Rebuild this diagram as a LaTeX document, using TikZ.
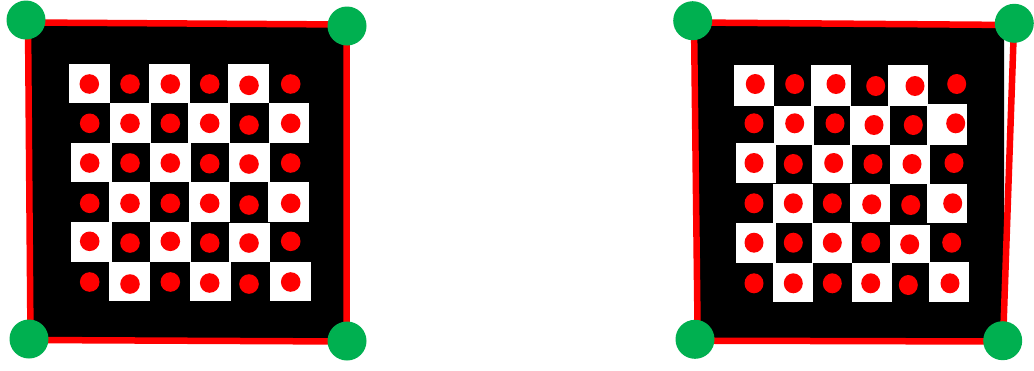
\documentclass[tikz,border=0pt]{standalone}
\definecolor{cgreen}{RGB}{0,176,80}
\definecolor{cred}{RGB}{255,0,0}
\tikzset{
  corner/.style={circle,fill=cgreen,inner sep=0pt,minimum size=39pt},
  frame/.style={draw=cred,line width=6.5pt,line join=miter},
  wcell/.style={fill=white},
  rdot/.style={fill=cred}
}
\begin{document}
\begin{tikzpicture}[x=1pt,y=-1pt]
\useasboundingbox[fill=white] (0,0) rectangle (1034,370);
% ---------- left panel ----------
\fill[black] (28,22) -- (347,24.5) -- (347,341.5) -- (30.5,340) -- cycle;
\foreach \a/\b/\c/\d in {
  69/64/110/103, 149/64/190/103, 228/64/269/103,
  110/103/151/142.7, 188/103/230/142.7, 269/103/309/142.7,
  71/142.7/112/182, 150/142.7/191/182, 229/142.7/270/182,
  109/182/150/221.7, 189/182/230/221.7, 268/182/309/221.7,
  71/221.7/112/261.7, 150/221.7/191/261.7, 229/223/270/261.7,
  109/261.7/150/300.7, 190/261.7/231/300.7, 270/261.7/311/300.7}
  \fill[wcell] (\a,\b) rectangle (\c,\d);
\foreach \x/\y in {
  89.3/84, 130/84, 170.3/84, 209.7/84, 249/85.3, 290.7/84,
  89.7/123.3, 130/123.3, 170.3/123.3, 209.7/123.3, 249/125, 290.7/123.3,
  89.7/163, 130/163, 170.3/163, 209.7/163.7, 249/164, 290.7/163,
  89.7/203.3, 130/203.3, 170.3/203.3, 209.7/203.3, 249/205, 290.7/203.3,
  89.7/241.3, 130/243, 170.3/241.3, 209.7/243, 249/243, 290.7/241.3,
  89.7/282, 130/284, 170.3/282, 209.7/283, 249/284, 290.7/282}
  \fill[rdot] (\x,\y) circle (9.8);
\draw[frame] (28,22.5) -- (346.7,24.5) -- (346.7,341.5) -- (30.5,340) -- cycle;
\node[corner] (l1) at (26,20) {};
\node[corner] (l2) at (347,26) {};
\node[corner] (l3) at (29,339) {};
\node[corner] (l4) at (347,341) {};
% ---------- right panel ----------
\fill[black] (694,22) -- (1004,24) -- (1004,341) -- (697.7,340.7) -- cycle;
\foreach \a/\b/\c/\d in {
  734/65/774/106, 811/65/851/106, 888/65/927.7/106,
  774/106/814/145, 850/106/890/145, 927/104/967/145,
  736/142.7/776/182.7, 812/145/852/182.7, 890/145/930/184,
  773.3/184/813.3/222.7, 850/183.7/890/221.7, 927.3/184/966.7/223.3,
  736/222.7/776/262.7, 812.3/222.7/852/262.7, 890/225/930/263.3,
  773.3/262.7/813.3/301.7, 852/262.7/892/301.7, 929.3/262/969/301.7}
  \fill[wcell] (\a,\b) rectangle (\c,\d);
\foreach \x/\y in {
  755.3/84, 794.7/84, 836/84, 875.7/86, 915/86, 956.7/84,
  754/123.3, 794.7/123.3, 835/123.3, 874/125, 913.3/125, 955.7/123.3,
  754/163, 793.3/164, 833.7/163, 873/164, 912/164, 954/163,
  754/203.3, 793.3/203.3, 832.3/203.3, 871.7/204.3, 910.7/205, 952.7/203.3,
  754/242.7, 793.3/242.7, 832.3/242.7, 870.7/242.7, 909.7/244.3, 951.7/242.7,
  754/283.3, 793.3/283.3, 832.3/283.3, 870.7/283.3, 908.3/285, 950/283.3}
  \fill[rdot] (\x,\y) ellipse (9.5 and 10);
\draw[frame] (694,22.5) -- (1014,25) -- (1003,341.5) -- (697.7,340.7) -- cycle;
\node[corner] (r1) at (692.7,20.7) {};
\node[corner] (r2) at (1014.3,23.3) {};
\node[corner] (r3) at (695,339.3) {};
\node[corner] (r4) at (1002.7,340.7) {};
\end{tikzpicture}
\end{document}
